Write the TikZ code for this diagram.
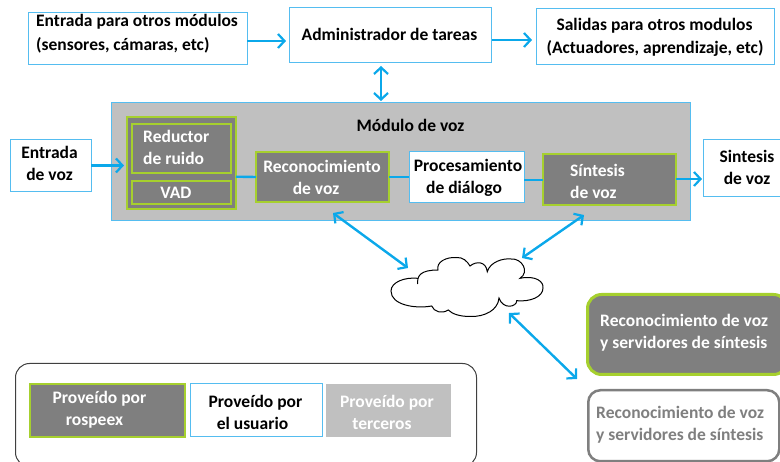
\documentclass[tikz,border=0pt]{standalone}
\usepackage{fontspec}
\setmainfont{Carlito}
\usetikzlibrary{arrows.meta}
\definecolor{arrowblue}{HTML}{0BA8EA}
\definecolor{boxblue}{HTML}{55BDF0}
\definecolor{limeline}{HTML}{A6D02E}
\definecolor{darkfill}{HTML}{7F7F7F}
\definecolor{lightfill}{HTML}{C0C0C0}
\tikzset{
  ubox/.style={draw=boxblue,fill=white,line width=1pt,anchor=north west,inner sep=0pt,outer sep=0pt},
  rbox/.style={draw=limeline,fill=darkfill,line width=1.1pt,anchor=north west,inner sep=0pt,outer sep=0pt},
  tbox/.style={fill=lightfill,anchor=north west,inner sep=0pt,outer sep=0pt},
  txt/.style={font=\fontsize{17.5}{22}\selectfont\bfseries,inner sep=0pt,text=black,align=left},
  wtxt/.style={txt,text=white},
  conn/.style={draw=arrowblue,line width=2.4pt},
  arr/.style={conn,-{Straight Barb[length=6.5pt,width=14pt,line width=2.2pt]}},
  darr/.style={conn,{Straight Barb[length=6.5pt,width=14pt,line width=2.2pt]}-{Straight Barb[length=6.5pt,width=14pt,line width=2.2pt]}},
}
\begin{document}
\begin{tikzpicture}[x=1pt,y=-1pt]
\useasboundingbox (0,0) rectangle (780,462);
% top row
\node[ubox,minimum width=219pt,minimum height=52pt] (inp) at (28,13) {};
\node[ubox,minimum width=202pt,minimum height=55pt] (adm) at (289,8) {};
\node[ubox,minimum width=238pt,minimum height=56pt] (sal) at (536,9) {};
\node[txt,anchor=west] (inpa) at (36,22) {Entrada para otros módulos};
\node[txt,anchor=west] (inpb) at (36,45) {(sensores, cámaras, etc)};
\node[txt] (admt) at (389.5,34.5) {Administrador de tareas};
\node[txt] (sala) at (654.5,26) {Salidas para otros modulos};
\node[txt] (salb) at (655,48) {(Actuadores, aprendizaje, etc)};
% voice module
\node[draw=boxblue,fill=lightfill,line width=1pt,anchor=north west,inner sep=0pt,outer sep=0pt,minimum width=579pt,minimum height=118pt] (mod) at (111,103) {};
\node[txt] (modt) at (410.5,125) {Módulo de voz};
\node[ubox,minimum width=81pt,minimum height=52pt] (vin) at (10,140) {};
\node[txt,align=center] (vint) at (49.5,163) {Entrada\\de voz};
\node[rbox,minimum width=109pt,minimum height=92pt] (grp) at (127,117) {};
\node[rbox,minimum width=99pt,minimum height=49pt] (red) at (132,124) {};
\node[rbox,minimum width=99pt,minimum height=23pt] (vad) at (132,181) {};
\node[wtxt,anchor=west] (redt) at (143,147) {Reductor\\de ruido};
\node[wtxt] (vadt) at (176,193) {VAD};
\node[rbox,minimum width=133pt,minimum height=50pt] (rec) at (256,152) {};
\node[wtxt,align=center] (rect) at (322,177) {Reconocimiento\\de voz\hspace*{12pt}};
\node[ubox,minimum width=115pt,minimum height=51pt] (pro) at (409,152) {};
\node[txt,align=center] (prot) at (468,178) {Procesamiento\\de diálogo\hspace*{8pt}};
\node[rbox,minimum width=133pt,minimum height=51pt] (sin) at (543,154) {};
\node[wtxt,anchor=west] (sint) at (570,181) {Síntesis\\de voz};
\node[ubox,minimum width=80pt,minimum height=57pt] (vou) at (703,140) {};
\node[txt,align=center] (vout) at (747,167) {Sintesis\\de voz};
% cloud
\draw[black,line width=1pt,fill=white] (417.7,284) .. controls (417,276) and (420,270) .. (438,270)
  .. controls (436,262) and (446,257) .. (456,257.5)
  .. controls (463,257) and (467,261) .. (470,266)
  .. controls (476,261) and (486,261) .. (487.3,271.7)
  .. controls (490,262) and (503,258) .. (511,259)
  .. controls (522,258) and (530,272) .. (520,278.3)
  .. controls (536,275) and (544,282) .. (543,288)
  .. controls (543,297) and (530,302) .. (516.7,300.7)
  .. controls (517,307) and (503,310) .. (499,298)
  .. controls (498,310) and (485,317) .. (470,316.5)
  .. controls (460,316.5) and (452,314) .. (448.3,310)
  .. controls (442,314) and (434,312) .. (431.7,306)
  .. controls (415,309) and (391,305) .. (391,291)
  .. controls (391,282) and (405,277) .. (417.7,278.3);
% servers
\node[draw=limeline,fill=darkfill,line width=3pt,rounded corners=14pt,anchor=north west,inner sep=0pt,minimum width=200pt,minimum height=80pt] (srv) at (586,293) {};
\node[draw=darkfill,fill=white,line width=2.5pt,rounded corners=12pt,anchor=north west,inner sep=0pt,minimum width=191pt,minimum height=71pt] (srw) at (587,389) {};
\node[wtxt,anchor=west] (srvt) at (600,333) {Reconocimiento de voz\\y servidores de síntesis};
\node[txt,text=darkfill,anchor=west] (srwt) at (596,425) {Reconocimiento de voz\\y servidores de síntesis};
% legend
\node[draw=black!75,line width=1pt,rounded corners=14pt,anchor=north west,inner sep=0pt,minimum width=461pt,minimum height=103pt] (leg) at (15,363) {};
\node[rbox,minimum width=155pt,minimum height=53pt] (lra) at (30,384) {};
\node[ubox,minimum width=132pt,minimum height=53pt] (lus) at (190,384) {};
\node[tbox,minimum width=125pt,minimum height=53pt] (lte) at (326,384) {};
\node[wtxt,align=center] (lrat) at (99.5,410) {Proveído por\\rospeex\hspace*{10pt}};
\node[txt,align=center] (lust) at (255.5,412) {Proveído por\\el usuario\hspace*{6pt}};
\node[wtxt,align=center] (ltet) at (387,412) {Proveído por\\terceros\hspace*{10pt}};
% connectors
\draw[arr,shorten >=3pt] ([yshift=-2pt]inp.east) -- ([yshift=-5.5pt]adm.west);
\draw[arr,shorten >=4pt,shorten <=1pt] ([yshift=-4.5pt]adm.east) -- ([yshift=-3pt]sal.west);
\draw[darr,shorten >=2pt,shorten <=3pt] ([xshift=-9pt]adm.south) -- ([xshift=-19.5pt]mod.north);
\draw[arr,shorten >=3pt] ([yshift=.5pt]vin.east) -- ([yshift=-2.5pt]grp.west);
\draw[conn] ([yshift=-13.7pt]grp.east) -- (rec.west);
\draw[conn] (rec.east) -- ([yshift=.5pt]pro.west);
\draw[conn] ([yshift=-2.5pt]pro.east) -- ([yshift=-.5pt]sin.west);
\draw[arr,shorten >=1pt] ([yshift=.5pt]sin.east) -- ([yshift=-10.5pt]vou.west);
\coordinate (da) at (333,213);
\coordinate (db) at (408,268);
\coordinate (dc) at (584,215);
\coordinate (dd) at (522,258);
\coordinate (de) at (509,313);
\coordinate (df) at (577,379);
\draw[darr] (da) -- (db);
\draw[darr] (dc) -- (dd);
\draw[darr] (de) -- (df);
\end{tikzpicture}
\end{document}
